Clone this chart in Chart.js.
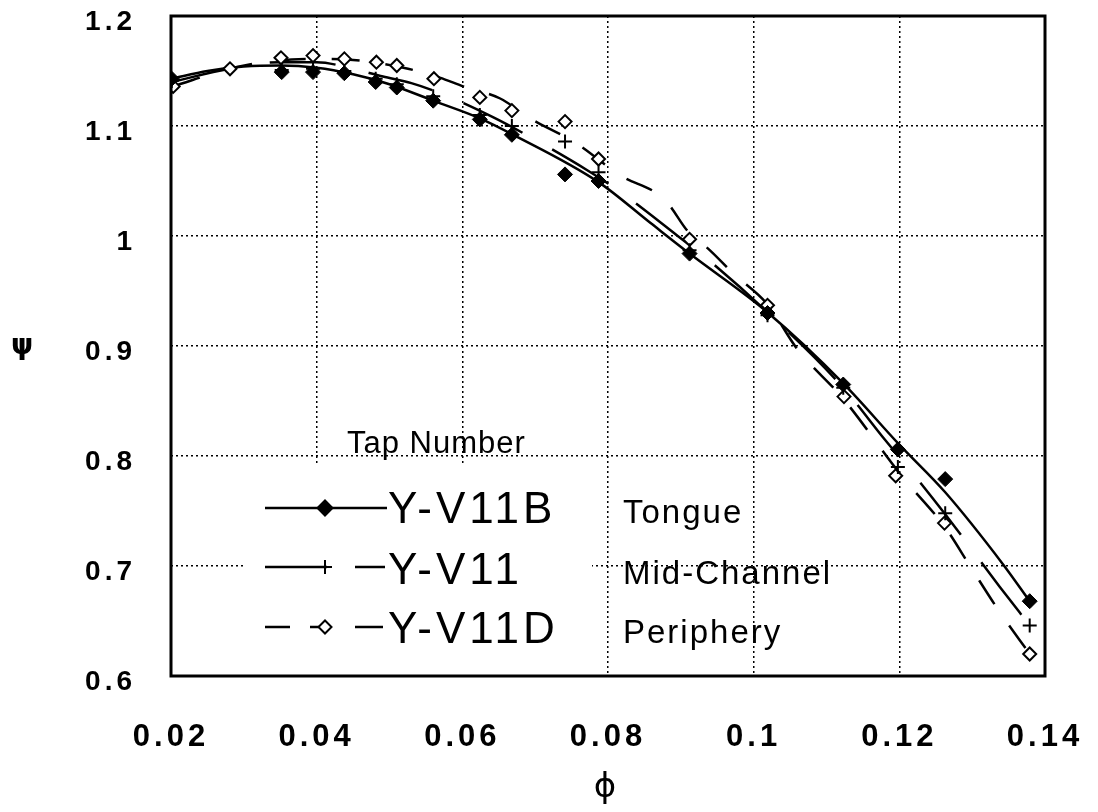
<!DOCTYPE html>
<html>
<head>
<meta charset="utf-8">
<script src="https://cdn.jsdelivr.net/npm/chart.js@4.4.1/dist/chart.umd.min.js"></script>
<style>
  html, body { margin: 0; padding: 0; background: #fff; }
  canvas { display: block; }
</style>
</head>
<body>
<canvas id="chart" width="1098" height="812"></canvas>
<script>
// tap readings (markers)
const phiB   = [0.0201, 0.0352, 0.0395, 0.0438, 0.0481, 0.0510, 0.0560, 0.0624, 0.0668, 0.0741, 0.0787, 0.0912, 0.1019, 0.1123, 0.1198, 0.1263, 0.1379];
const psiB   = [1.143, 1.149, 1.149, 1.148, 1.140, 1.135, 1.123, 1.106, 1.092, 1.056, 1.050, 0.984, 0.930, 0.865, 0.806, 0.779, 0.668];
const phiMid = [0.0201, 0.0352, 0.0395, 0.0438, 0.0481, 0.0510, 0.0560, 0.0624, 0.0668, 0.0741, 0.0787, 0.0912, 0.1019, 0.1123, 0.1198, 0.1263, 0.1379];
const psiMid = [1.141, 1.151, 1.152, 1.150, 1.143, 1.138, 1.127, 1.110, 1.100, 1.086, 1.058, 0.987, 0.928, 0.862, 0.790, 0.748, 0.646];
const phiD   = [0.0203, 0.0281, 0.0351, 0.0395, 0.0438, 0.0482, 0.0510, 0.0561, 0.0624, 0.0668, 0.0741, 0.0787, 0.0912, 0.1019, 0.1124, 0.1195, 0.1262, 0.1379];
const psiD   = [1.136, 1.152, 1.162, 1.164, 1.161, 1.158, 1.155, 1.143, 1.126, 1.114, 1.104, 1.070, 0.997, 0.937, 0.854, 0.782, 0.739, 0.620];

// fitted curves
const fitPhiB   = [0.0201, 0.025, 0.030, 0.035, 0.040, 0.045, 0.050, 0.056, 0.0624, 0.067, 0.0787, 0.0858, 0.0912, 0.102, 0.1123, 0.1199, 0.1263, 0.1343, 0.1379];
const fitPsiB   = [1.143, 1.150, 1.154, 1.155, 1.153, 1.147, 1.138, 1.123, 1.107, 1.092, 1.049, 1.012, 0.984, 0.930, 0.866, 0.811, 0.767, 0.701, 0.668];
const fitPhiMid = [0.0201, 0.028, 0.035, 0.040, 0.045, 0.0491, 0.053, 0.0569, 0.0642, 0.0693, 0.0771, 0.0817, 0.0894, 0.094, 0.102, 0.1123, 0.118, 0.122, 0.1263, 0.1338, 0.1379];
const fitPsiMid = [1.140, 1.152, 1.158, 1.158, 1.152, 1.145, 1.139, 1.130, 1.108, 1.090, 1.060, 1.040, 1.001, 0.977, 0.930, 0.862, 0.815, 0.783, 0.747, 0.681, 0.646];
const fitPhiD   = [0.0203, 0.028, 0.0326, 0.0395, 0.045, 0.0519, 0.0569, 0.0601, 0.0652, 0.0693, 0.0757, 0.0817, 0.0878, 0.091, 0.094, 0.0972, 0.102, 0.1059, 0.1123, 0.1203, 0.1263, 0.1297, 0.1338, 0.1379];
const fitPsiD   = [1.136, 1.152, 1.158, 1.161, 1.160, 1.153, 1.144, 1.136, 1.125, 1.107, 1.084, 1.055, 1.033, 1.004, 0.987, 0.966, 0.937, 0.898, 0.852, 0.782, 0.735, 0.700, 0.658, 0.620];

const xTicks = [0.02, 0.04, 0.06, 0.08, 0.1, 0.12, 0.14];
const yTicks = [0.6, 0.7, 0.8, 0.9, 1, 1.1, 1.2];

const tapNames  = ['Y-V11B', 'Y-V11', 'Y-V11D'];
const tapPlaces = ['Tongue', 'Mid-Channel', 'Periphery'];

const pts = (xs, ys) => xs.map((x, i) => ({ x, y: ys[i] }));

const DASH_MID = [66, 34];
const DASH_D   = [28, 26];
const FAMILY = '"Liberation Sans", Arial, sans-serif';

function diamond(ctx, x, y, r, filled) {
    ctx.beginPath();
    ctx.moveTo(x - r, y); ctx.lineTo(x, y - r); ctx.lineTo(x + r, y); ctx.lineTo(x, y + r);
    ctx.closePath();
    ctx.fillStyle = filled ? '#000' : '#fff';
    ctx.fill();
    ctx.lineWidth = 2; ctx.strokeStyle = '#000';
    ctx.stroke();
}

function cross(ctx, x, y, r) {
    ctx.beginPath();
    ctx.moveTo(x - r, y); ctx.lineTo(x + r, y);
    ctx.moveTo(x, y - r); ctx.lineTo(x, y + r);
    ctx.lineWidth = 2; ctx.strokeStyle = '#000';
    ctx.stroke();
}

// legend line pieces per row: [from, to] in px
const legendPieces = [
    [[265, 387]],
    [[265, 327], [355, 385]],
    [[265, 290], [310, 325], [355, 383]]
];

const paperPlugin = {
    id: 'paper',
    // canvas resize wipes context state, so set spacing right before drawing
    beforeDraw(chart) { chart.ctx.letterSpacing = '4px'; },
    beforeDatasetsDraw(chart) {
        // legend box hides grid behind it
        const ctx = chart.ctx;
        ctx.save();
        ctx.fillStyle = '#fff';
        ctx.fillRect(245, 465, 347, 208);
        ctx.restore();
    },
    afterDraw(chart) {
        const ctx = chart.ctx;
        const a = chart.chartArea;
        ctx.save();
        ctx.lineWidth = 3; ctx.strokeStyle = '#000';
        ctx.setLineDash([]);
        ctx.strokeRect(a.left, a.top, a.right - a.left, a.bottom - a.top);

        ctx.fillStyle = '#000';
        ctx.letterSpacing = '0px';
        ctx.textAlign = 'center'; ctx.textBaseline = 'middle';
        ctx.font = 'bold 28px "DejaVu Sans"';
        ctx.fillText('ψ', 22, 347);
        ctx.font = '34px "DejaVu Sans"';
        ctx.fillText('ϕ', 605, 788);

        ctx.textAlign = 'left'; ctx.textBaseline = 'alphabetic';
        ctx.letterSpacing = '1px';
        ctx.font = '31px ' + FAMILY;
        ctx.fillText('Tap Number', 347, 453);

        const rows = [508, 567, 627];
        const bases = [523, 584, 643];
        rows.forEach((y, i) => {
            ctx.save();
            ctx.lineWidth = 2.5; ctx.strokeStyle = '#000';
            ctx.beginPath();
            legendPieces[i].forEach(([x0, x1]) => { ctx.moveTo(x0, y); ctx.lineTo(x1, y); });
            ctx.stroke();
            if (i === 0) diamond(ctx, 325, y, 7.5, true);
            else if (i === 1) cross(ctx, 325, y, 7);
            else diamond(ctx, 325, y, 6.5, false);
            ctx.restore();

            ctx.fillStyle = '#000';
            ctx.letterSpacing = '4px';
            ctx.font = '44px ' + FAMILY;
            ctx.fillText(tapNames[i], 388, bases[i]);
            ctx.letterSpacing = '2px';
            ctx.font = '33px ' + FAMILY;
            ctx.fillText(tapPlaces[i], 623, bases[i]);
        });
        ctx.restore();
    }
};

const markerBase = { showLine: false, order: 1, pointRadius: 7, pointHoverRadius: 7, borderColor: '#000' };
const curveBase  = { showLine: true, order: 2, pointRadius: 0, pointHoverRadius: 0, borderColor: '#000', borderWidth: 2.5, cubicInterpolationMode: 'monotone', fill: false };

new Chart(document.getElementById('chart'), {
    type: 'scatter',
    data: {
        datasets: [
            { ...curveBase, label: 'fit ' + tapNames[0], data: pts(fitPhiB, fitPsiB) },
            { ...curveBase, label: 'fit ' + tapNames[1], data: pts(fitPhiMid, fitPsiMid), borderDash: DASH_MID },
            { ...curveBase, label: 'fit ' + tapNames[2], data: pts(fitPhiD, fitPsiD), borderDash: DASH_D },
            { ...markerBase, label: tapNames[1], data: pts(phiMid, psiMid), pointStyle: 'cross', pointBorderWidth: 2, backgroundColor: '#000' },
            { ...markerBase, label: tapNames[0], data: pts(phiB, psiB), pointStyle: 'rectRot', pointRadius: 7.5, backgroundColor: '#000', pointBorderWidth: 1 },
            { ...markerBase, label: tapNames[2], data: pts(phiD, psiD), pointStyle: 'rectRot', pointRadius: 6.5, backgroundColor: '#fff', pointBorderWidth: 2 },
        ]
    },
    options: {
        responsive: false,
        animation: false,
        devicePixelRatio: 1,
        layout: { padding: { left: 0, right: 53, top: 16, bottom: 0 } },
        plugins: { legend: { display: false }, tooltip: { enabled: false } },
        scales: {
            x: {
                type: 'linear', min: 0.02, max: 0.14,
                afterBuildTicks: s => { s.ticks = xTicks.map(v => ({ value: v })); },
                afterFit: s => { s.height = 136; s.paddingLeft = 0; s.paddingRight = 0; },
                ticks: { padding: 43, maxRotation: 0, autoSkip: false, color: '#000',
                         font: { family: FAMILY, size: 31, weight: 'bold' }, callback: v => String(v) },
                grid: { color: '#000', lineWidth: 1.5, drawTicks: false },
                border: { display: false, dash: [2, 3] }
            },
            y: {
                type: 'linear', min: 0.6, max: 1.2,
                afterBuildTicks: s => { s.ticks = yTicks.map(v => ({ value: v })); },
                afterFit: s => { s.width = 171; s.paddingTop = 0; s.paddingBottom = 0; },
                ticks: { padding: 35, labelOffset: 6, color: '#000',
                         font: { family: FAMILY, size: 28, weight: 'bold' }, callback: v => String(v) },
                grid: { color: '#000', lineWidth: 1.5, drawTicks: false },
                border: { display: false, dash: [2, 3] }
            }
        }
    },
    plugins: [paperPlugin]
});
</script>
</body>
</html>
